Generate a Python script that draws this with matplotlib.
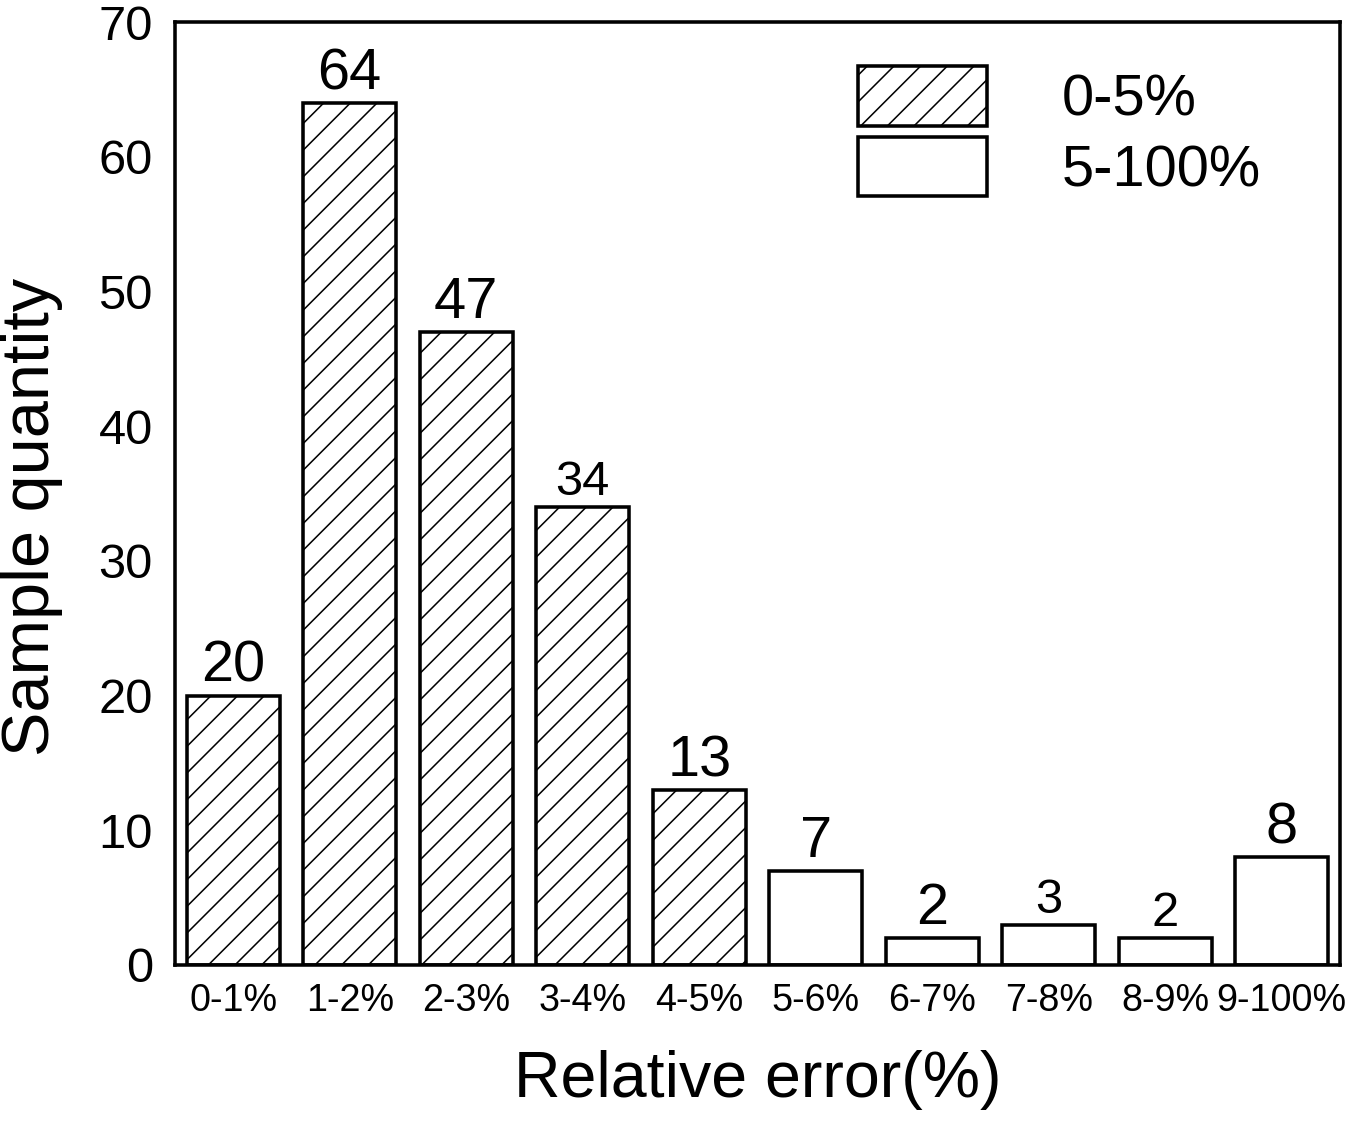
import matplotlib
matplotlib.use('Agg')
import matplotlib.pyplot as plt
import numpy as np

# data
categories = ['0-1%', '1-2%', '2-3%', '3-4%', '4-5%', '5-6%', '6-7%', '7-8%', '8-9%', '9-100%']
counts = [20, 64, 47, 34, 13, 7, 2, 3, 2, 8]
group_low = [True, True, True, True, True, False, False, False, False, False]
legend_labels = ['0-5%', '5-100%']

plt.rcParams['font.family'] = ['Liberation Sans', 'DejaVu Sans']
plt.rcParams['hatch.linewidth'] = 0.7

# dpi 160 so the hatch spacing comes out close to the reference
fig = plt.figure(figsize=(1350/160, 1121/160), dpi=160)
ax = fig.add_axes([175/1350, 1-965/1121, 1165/1350, 943/1121])

x = np.arange(len(categories))
lw = 1.6
low_x = [i for i in x if group_low[i]]
high_x = [i for i in x if not group_low[i]]
ax.bar(low_x, [counts[i] for i in low_x], width=0.8, color='white',
       edgecolor='black', linewidth=lw, hatch='//', label=legend_labels[0])
ax.bar(high_x, [counts[i] for i in high_x], width=0.8, color='white',
       edgecolor='black', linewidth=lw, label=legend_labels[1])

# value labels, a few are a bit smaller in the original
small = {3, 7, 8}
for i, v in enumerate(counts):
    ax.annotate(str(v), (x[i], v), xytext=(0, 0.8), textcoords='offset points',
                ha='center', va='bottom', fontsize=22 if i in small else 26)

ax.set_xlim(-0.5, 9.5)
ax.set_ylim(0, 70)
ax.set_yticks(range(0, 71, 10))
ax.set_xticks(x)
ax.set_xticklabels(categories)
ax.tick_params(axis='y', length=0, labelsize=22, pad=10)
ax.tick_params(axis='x', length=0, labelsize=17, pad=8)
for s in ax.spines.values():
    s.set_linewidth(lw)

ax.set_ylabel('Sample quantity', fontsize=30)
ax.yaxis.set_label_coords(-0.096, 0.475)
ax.set_xlabel('Relative error(%)', fontsize=29, labelpad=14)

ax.legend(loc='upper left', bbox_to_anchor=(0.586, 0.953), frameon=False,
          fontsize=26, borderpad=0, borderaxespad=0, handlelength=2.23,
          handleheight=1.2, labelspacing=0.17, handletextpad=1.3)

plt.savefig('out.png', dpi=160)
